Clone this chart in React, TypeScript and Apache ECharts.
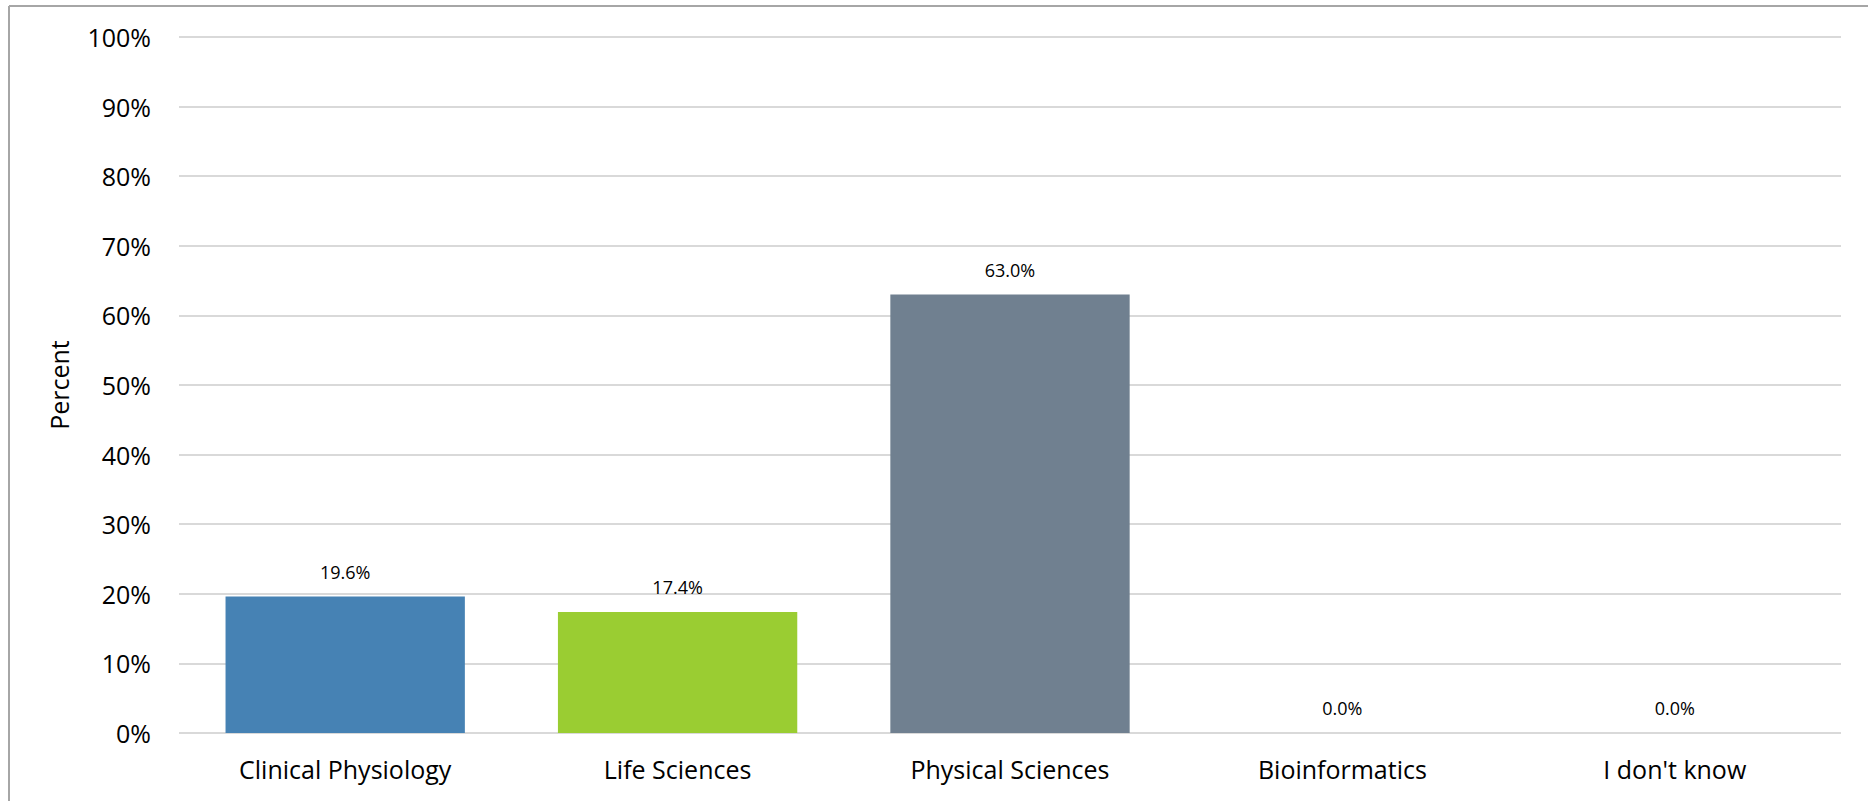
import React, { useEffect, useRef } from "react";
import * as echarts from "echarts";

const categories = ["Clinical Physiology", "Life Sciences", "Physical Sciences", "Bioinformatics", "I don't know"];
const values = [19.6, 17.4, 63.0, 0.0, 0.0];
const barColors = ["#4682B4", "#9ACD32", "#708090", "#4682B4", "#4682B4"];
const yAxisTitle = "Percent";

export default function App() {
  const ref = useRef<HTMLDivElement>(null);
  useEffect(() => {
    if (!ref.current) return;
    const chart = echarts.init(ref.current, undefined, { renderer: "svg" });
    const font = "'Open Sans', sans-serif";
    chart.setOption({
      animation: false,
      backgroundColor: "#ffffff",
      grid: { left: 179, right: 27, top: 37, bottom: 68, containLabel: false },
      graphic: [
        { type: "line", shape: { x1: 9, y1: 6, x2: 1868, y2: 6 }, style: { stroke: "#a6a6a6", lineWidth: 2 }, silent: true },
        { type: "line", shape: { x1: 9, y1: 6, x2: 9, y2: 801 }, style: { stroke: "#a6a6a6", lineWidth: 2 }, silent: true },
      ],
      xAxis: {
        type: "category",
        data: categories,
        axisLine: { show: false },
        axisTick: { show: false },
        axisLabel: { color: "#000", fontSize: 25, fontFamily: font, margin: 23, interval: 0 },
      },
      yAxis: {
        type: "value",
        min: 0,
        max: 100,
        interval: 10,
        name: yAxisTitle,
        nameLocation: "middle",
        nameGap: 108,
        nameTextStyle: { color: "#000", fontSize: 25, fontFamily: font },
        axisLine: { show: false },
        axisTick: { show: false },
        axisLabel: { color: "#000", fontSize: 25, fontFamily: font, margin: 28, formatter: "{value}%" },
        splitLine: { lineStyle: { color: "#d9d9d9", width: 2 } },
      },
      series: [
        {
          type: "bar",
          data: values.map((v, i) => ({ value: v, itemStyle: { color: barColors[i] } })),
          barCategoryGap: "28%",
          label: {
            show: true,
            position: "top",
            distance: 16,
            color: "#000",
            fontSize: 18,
            fontFamily: font,
            formatter: (p: any) => Number(p.value).toFixed(1) + "%",
          },
        },
      ],
    });
    return () => chart.dispose();
  }, []);
  return <div ref={ref} style={{ position: "fixed", left: 0, top: 0, width: 1868, height: 801 }} />;
}
